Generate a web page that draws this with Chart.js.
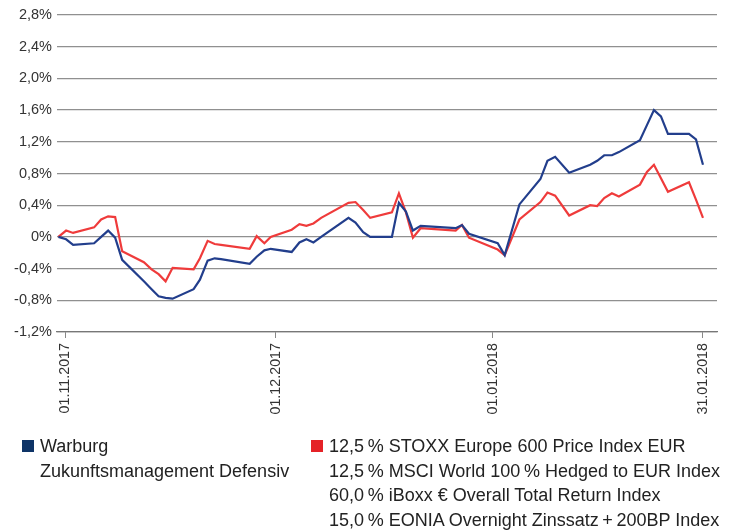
<!DOCTYPE html>
<html>
<head>
<meta charset="utf-8">
<script src="https://cdn.jsdelivr.net/npm/chart.js@4"></script>
<style>
  body { margin: 0; background: #fff; }
  #wrap { position: relative; width: 734px; height: 530px; }
  #legend { position: absolute; left: 0; top: 434px; width: 734px; font-family: "Liberation Sans", Arial, sans-serif; font-size: 18px; line-height: 24.5px; color: #222; }
  .item { position: absolute; top: 0; }
  .box { position: absolute; top: 6px; width: 12px; height: 12px; }
  .txt { position: absolute; left: 18px; white-space: nowrap; }
</style>
</head>
<body>
<div id="wrap">
  <canvas id="chart" width="734" height="530"></canvas>
  <div id="legend"></div>
</div>
<script>
// days since 01.11.2017 (weekend gaps are bridged by straight segments)
const dayOffsets = [-1.0, 0.1, 1.1, 4.1, 5.1, 6.1, 7.1, 8.1, 11.2, 12.3, 13.3, 14.3, 15.3, 18.3, 19.2, 20.3, 21.3, 22.2,
    26.3, 27.3, 28.4, 29.3, 32.3, 33.4, 34.4, 35.4, 36.5, 40.4, 41.4, 42.5, 43.5, 46.6, 47.6, 48.6, 49.6, 50.7,
    55.7, 56.6, 57.6, 61.7, 62.7, 64.8, 67.8, 68.8, 69.9, 71.9, 74.9, 75.9, 76.9, 78.0, 79.0, 82.0, 83.0, 84.0,
    85.0, 86.0, 89.0, 90.0, 91.0];

// Warburg Zukunftsmanagement Defensiv (%)
const fundValues = [0, -0.03, -0.10, -0.08, 0.00, 0.08, -0.01, -0.29, -0.56, -0.66, -0.75, -0.77, -0.78, -0.66, -0.54, -0.30, -0.27, -0.28,
    -0.34, -0.25, -0.17, -0.15, -0.19, -0.07, -0.03, -0.07, 0.00, 0.24, 0.18, 0.06, 0.00, 0.00, 0.43, 0.32, 0.08, 0.14,
    0.11, 0.15, 0.04, -0.08, -0.23, 0.41, 0.73, 0.96, 1.01, 0.81, 0.91, 0.96, 1.03, 1.03, 1.07, 1.22, 1.41, 1.60,
    1.52, 1.30, 1.30, 1.23, 0.91];

// Benchmark (%)
const benchValues = [0, 0.08, 0.05, 0.12, 0.22, 0.26, 0.25, -0.18, -0.32, -0.41, -0.47, -0.56, -0.39, -0.41, -0.27, -0.05, -0.09, -0.10,
    -0.15, 0.01, -0.08, 0.00, 0.09, 0.16, 0.14, 0.17, 0.24, 0.43, 0.44, 0.34, 0.24, 0.31, 0.55, 0.31, -0.01, 0.11,
    0.08, 0.15, -0.01, -0.16, -0.23, 0.22, 0.44, 0.56, 0.52, 0.27, 0.40, 0.39, 0.49, 0.55, 0.51, 0.66, 0.82, 0.91,
    0.74, 0.57, 0.69, 0.47, 0.24];

const tickDays = [0, 30, 61, 91];
const tickLabels = ["01.11.2017", "01.12.2017", "01.01.2018", "31.01.2018"];

const fundLegend = ["Warburg", "Zukunftsmanagement Defensiv"];
const benchLegend = [
    "12,5\u2009% STOXX Europe 600 Price Index EUR",
    "12,5\u2009% MSCI World 100\u2009% Hedged to EUR Index",
    "60,0\u2009% iBoxx € Overall Total Return Index",
    "15,0\u2009% EONIA Overnight Zinssatz\u2009+\u2009200BP Index"
];

const blueLine = "#223e8c";
const redLine = "#ef3b3b";

function toPoints(values) {
    return values.map((v, i) => ({ x: dayOffsets[i], y: v }));
}

function pct(v) {
    if (Math.abs(v) < 1e-9) return "0%";
    return v.toFixed(1).replace(".", ",") + "%";
}

new Chart(document.getElementById("chart"), {
    type: "line",
    data: {
        datasets: [
            { label: fundLegend.join(" "), data: toPoints(fundValues), borderColor: blueLine, borderWidth: 2.2, pointRadius: 0, fill: false, tension: 0 },
            { label: "Benchmark", data: toPoints(benchValues), borderColor: redLine, borderWidth: 2.2, pointRadius: 0, fill: false, tension: 0 }
        ]
    },
    options: {
        responsive: false,
        animation: false,
        layout: { padding: { top: 15, right: 17 } },
        plugins: {
            legend: { display: false },
            tooltip: { enabled: false }
        },
        scales: {
            x: {
                type: "linear",
                min: -1.2,
                max: 93,
                afterBuildTicks: (scale) => { scale.ticks = tickDays.map(v => ({ value: v })); },
                afterFit: (scale) => { scale.height = 198; },
                ticks: {
                    autoSkip: false,
                    minRotation: 90,
                    maxRotation: 90,
                    padding: 5,
                    color: "#333",
                    font: { family: "Liberation Sans", size: 14.3 },
                    callback: (v, i) => tickLabels[i]
                },
                grid: { drawOnChartArea: false, drawTicks: true, tickLength: 6, color: "#888" },
                border: { color: "#777", width: 1.2 }
            },
            y: {
                min: -1.2,
                max: 2.8,
                afterFit: (scale) => { scale.width = 57; },
                ticks: {
                    stepSize: 0.4,
                    padding: 5,
                    color: "#333",
                    font: { family: "Liberation Sans", size: 14.5 },
                    callback: (v) => pct(v)
                },
                grid: { color: "#909090", lineWidth: 1.3, drawTicks: false },
                border: { display: false }
            }
        }
    }
});

// legend below the chart
const legend = document.getElementById("legend");
function addItem(left, color, lines) {
    const item = document.createElement("div");
    item.className = "item";
    item.style.left = left + "px";
    const box = document.createElement("div");
    box.className = "box";
    box.style.background = color;
    item.appendChild(box);
    const txt = document.createElement("div");
    txt.className = "txt";
    txt.innerHTML = lines.join("<br>");
    item.appendChild(txt);
    legend.appendChild(item);
}
addItem(22, "#0e3467", fundLegend);
addItem(311, "#e52227", benchLegend);
</script>
</body>
</html>
